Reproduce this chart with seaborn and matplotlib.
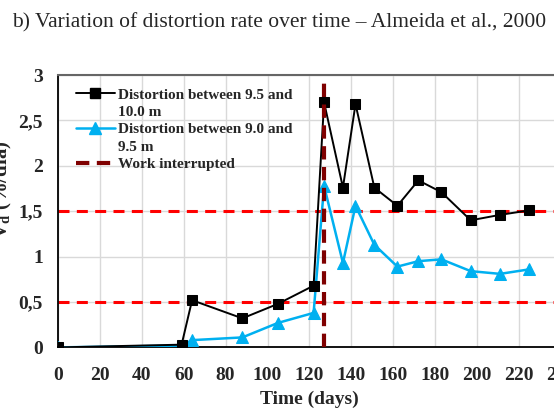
import matplotlib
matplotlib.use("Agg")
import matplotlib.pyplot as plt
from matplotlib.lines import Line2D
import seaborn as sns
import pandas as pd
from matplotlib.ticker import FuncFormatter, MultipleLocator

# Time (days) and distortion rate Vd (%/dia)
days_a = [0, 59, 64, 88, 105, 122, 127, 136, 142, 151, 162, 172, 183, 197, 211, 225]
rate_a = [0.0, 0.03, 0.52, 0.32, 0.48, 0.68, 2.70, 1.76, 2.68, 1.76, 1.56, 1.84, 1.71, 1.40, 1.46, 1.51]

days_b = [0, 59, 64, 88, 105, 122, 127, 136, 142, 151, 162, 172, 183, 197, 211, 225]
rate_b = [0.0, 0.02, 0.08, 0.11, 0.27, 0.38, 1.78, 0.93, 1.56, 1.13, 0.89, 0.95, 0.97, 0.84, 0.81, 0.86]

interrupt_day = [127, 127]
interrupt_rate = [0.0, 2.92]

limits = [0.5, 1.5]

# legend text, wrapped as in the original
label_a = ["Distortion between 9.5 and", "10.0 m"]
label_b = ["Distortion between 9.0 and", "9.5 m"]
label_c = ["Work interrupted"]

sns.set_style("white")
plt.rcParams["font.family"] = ["Liberation Serif", "DejaVu Serif"]
plt.rcParams["mathtext.fontset"] = "custom"
plt.rcParams["mathtext.rm"] = "Liberation Serif:bold"
plt.rcParams["mathtext.it"] = "Liberation Serif:bold"
plt.rcParams["mathtext.bf"] = "Liberation Serif:bold"

df_a = pd.DataFrame({"days": days_a, "rate": rate_a})
df_b = pd.DataFrame({"days": days_b, "rate": rate_b})

fig = plt.figure(figsize=(5.54, 4.12), dpi=100)
ax = fig.add_axes([0.1047, 0.1568, 0.9076, 0.661])

ax.grid(True, color="#d9d9d9", linewidth=1.0)
ax.set_axisbelow(True)

for lim in limits:
    ax.axhline(lim, color="#ff0000", linestyle=(0, (3.6, 2.4)), linewidth=2.2, zorder=2)

sns.lineplot(data=df_a, x="days", y="rate", ax=ax, color="black", linewidth=1.4,
             marker="s", markersize=7, markeredgecolor="black",
             estimator=None, sort=False, zorder=4)
sns.lineplot(data=df_b, x="days", y="rate", ax=ax, color="#00b0f0", linewidth=1.8,
             marker="^", markersize=8, markeredgecolor="#00b0f0",
             estimator=None, sort=False, zorder=3)
ax.plot(interrupt_day, interrupt_rate, color="#7f0000", linewidth=3,
        linestyle=(0, (3.2, 1.8)), zorder=5)

ax.set_xlim(0, 240)
ax.set_ylim(0, 3)
ax.xaxis.set_major_locator(MultipleLocator(20))
ax.yaxis.set_major_locator(MultipleLocator(0.5))
ax.yaxis.set_major_formatter(FuncFormatter(lambda v, p: f"{v:g}".replace(".", ",")))
ax.tick_params(axis="both", length=0, labelsize=14)
ax.tick_params(axis="x", pad=14)
ax.tick_params(axis="y", pad=11)
for t in ax.get_xticklabels() + ax.get_yticklabels():
    t.set_fontweight("bold")

for side in ["left", "bottom"]:
    ax.spines[side].set_color("black")
    ax.spines[side].set_linewidth(1.3)
ax.spines["top"].set_color("#666666")
ax.spines["top"].set_linewidth(1.5)
ax.spines["right"].set_visible(False)

ax.set_xlabel("Time (days)", fontsize=14, fontweight="bold", labelpad=5)
ax.set_ylabel("V$_{\\mathrm{d}}$ (%/dia)", fontsize=15, fontweight="bold")
ax.yaxis.set_label_coords(-0.088, 0.578)

# legend: handle on the first line of each entry, blank handle on wrapped lines
blank = Line2D([], [], color="none")
h_a = Line2D([], [], color="black", linewidth=1.4, marker="s", markersize=7)
h_b = Line2D([], [], color="#00b0f0", linewidth=1.8, marker="^", markersize=8)
h_c = Line2D([], [], color="#7f0000", linewidth=3, linestyle=(0, (3.2, 1.8)))
handles, labels = [], []
for h, lab in [(h_a, label_a), (h_b, label_b), (h_c, label_c)]:
    for i, line in enumerate(lab):
        handles.append(h if i == 0 else blank)
        labels.append(line)

leg = ax.legend(handles, labels, loc="upper left", bbox_to_anchor=(0.013, 0.995),
                frameon=False, prop={"weight": "bold", "size": 11},
                handlelength=2.55, handletextpad=0.2, labelspacing=0.245,
                borderaxespad=0.35, markerscale=1.0)

fig.text(0.022, 0.944, "b) Variation of distortion rate over time \u2013 Almeida et al., 2000",
         fontsize=15.5, ha="left", va="center")

fig.savefig("out.png", dpi=100, facecolor="white")
